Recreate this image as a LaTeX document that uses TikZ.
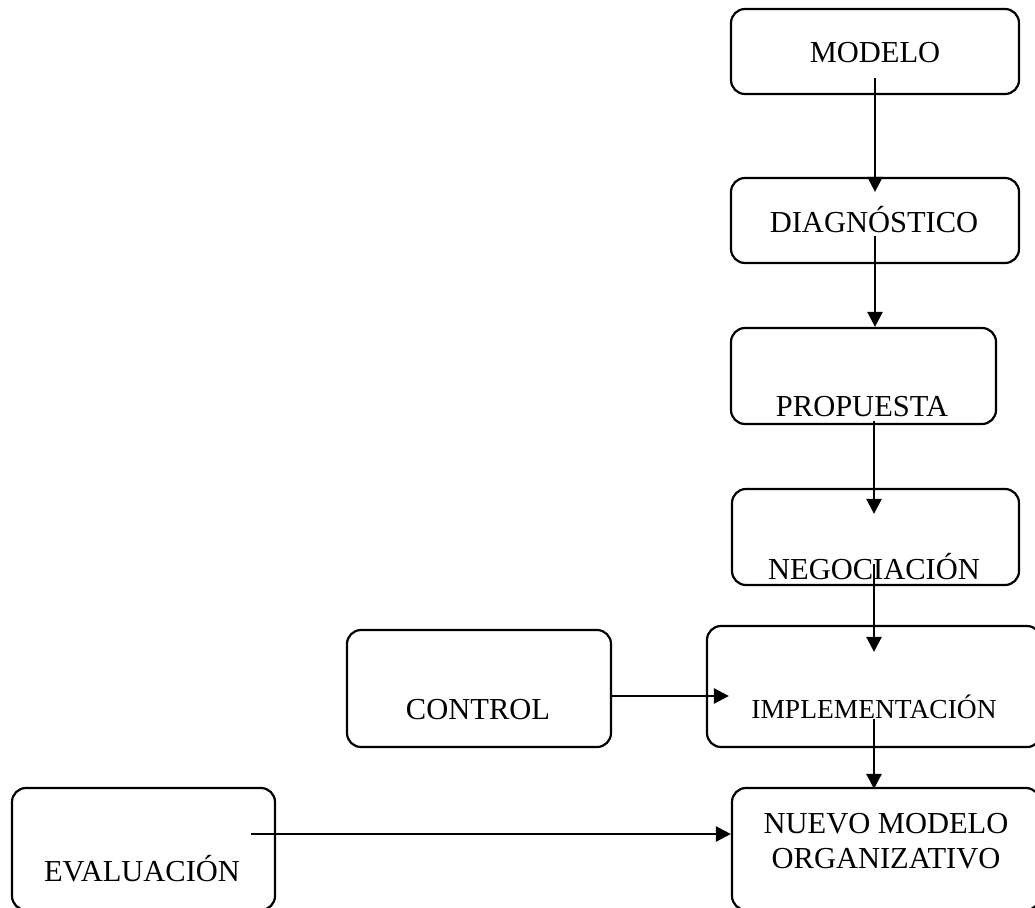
\documentclass[tikz,border=0pt]{standalone}
\usepackage{fontspec}
\setmainfont{Liberation Serif}
\usetikzlibrary{arrows, arrows.meta, positioning, shapes}

\begin{document}
\begin{tikzpicture}[x=1pt, y=-1pt,
stagenode/.style={rectangle, draw=black, line width=2.2pt, rounded corners=14pt, inner sep=0pt},
stagetext/.style={anchor=base, font=\fontsize{30.5}{35}\selectfont, align=center},
flowarrow/.style={-{Triangle[length=15pt,width=15pt]}, line width=2.5pt},
]
\useasboundingbox (0,0) rectangle (1035,907);
\clip (0,0) rectangle (1035,907);

%Nodes
\node[stagenode, minimum width=288, minimum height=85, label={[stagetext, yshift=-1.5]center:MODELO}] at (875,51.5) (modelo) {};
\node[stagenode, minimum width=288, minimum height=85, label={[stagetext, yshift=0.5, xshift=-1]center:DIAGNÓSTICO}] at (875,220.5) (diag) {};
\node[stagenode, minimum width=265, minimum height=96, label={[stagetext, yshift=-31, xshift=-1.5]center:PROPUESTA}] at (863.5,376) (prop) {};
\node[stagenode, minimum width=287, minimum height=96, label={[stagetext, yshift=-30, xshift=-1.5]center:NEGOCIACIÓN}] at (875.5,537) (neg) {};
\node[stagenode, minimum width=334, minimum height=121, label={[stagetext, font=\fontsize{27.5}{33}\selectfont, yshift=-20.5]center:IMPLEMENTACIÓN}] at (874,686.5) (impl) {};
\node[stagenode, minimum width=264, minimum height=117, label={[stagetext, yshift=-21.5, xshift=-1]center:CONTROL}] at (479,688.5) (ctrl) {};
\node[stagenode, minimum width=308, minimum height=122, label={[stagetext, anchor=center, yshift=8]center:NUEVO MODELO\\ORGANIZATIVO}] at (886,849) (nuevo) {};
\node[stagenode, minimum width=263, minimum height=122, label={[stagetext, yshift=-20, xshift=-1.5]center:EVALUACIÓN}] at (143.5,849) (eval) {};

%Lines
\draw [flowarrow] ([yshift=17]modelo.south) -- ([yshift=-15]diag.north);
\draw [flowarrow] ([yshift=28]diag.south) -- (diag.south |- prop.north);
\draw [flowarrow] ([xshift=10.5, yshift=4]prop.south) -- ([xshift=-1.5, yshift=-26]neg.north);
\draw [flowarrow] ([xshift=-1.5, yshift=22]neg.south) -- ([yshift=-27]impl.north);
\draw [flowarrow] ([yshift=29]impl.south) -- ([xshift=-12, yshift=-2]nuevo.north);
\draw [flowarrow] ([yshift=-7.5]ctrl.east) -- ([xshift=23, yshift=-9.5]impl.west);
\draw [flowarrow] ([xshift=-25, yshift=15]eval.east) -- ([yshift=15]nuevo.west);

\end{tikzpicture}
\end{document}
